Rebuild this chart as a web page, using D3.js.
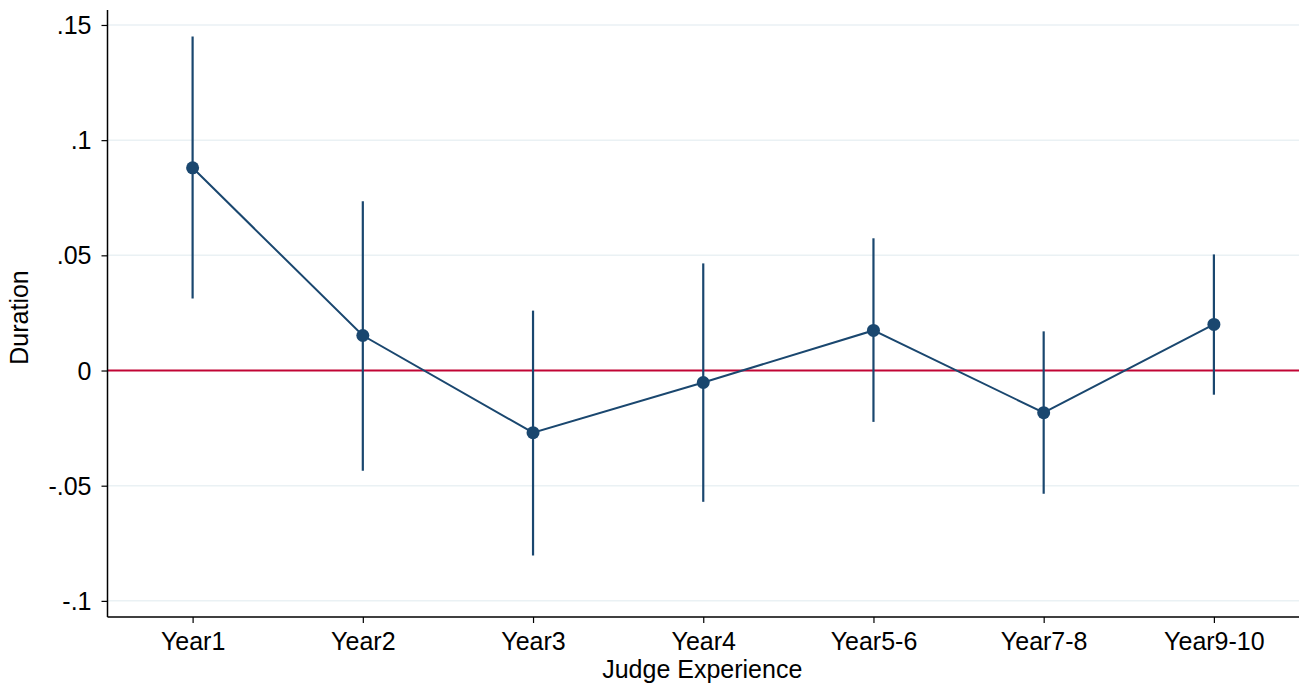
<!DOCTYPE html>
<html><head><meta charset="utf-8">
<script src="https://cdn.jsdelivr.net/npm/d3@7"></script>
<style>body{margin:0;background:#fff}svg{display:block}text{font-family:"Liberation Sans",Arial,sans-serif;fill:#000}</style>
</head><body><div id="chart"></div>
<script>
const categories = ["Year1","Year2","Year3","Year4","Year5-6","Year7-8","Year9-10"];
const estimates = [0.088, 0.0152, -0.027, -0.0052, 0.0174, -0.0183, 0.020];
const lowerCI = [0.0313, -0.0435, -0.0803, -0.057, -0.0223, -0.0535, -0.0105];
const upperCI = [0.145, 0.0735, 0.026, 0.0465, 0.0574, 0.017, 0.0504];
const yTicks = [-0.1, -0.05, 0, 0.05, 0.1, 0.15];
const yTickLabels = ["-.1", "-.05", "0", ".05", ".1", ".15"];

const W = 1302, H = 687;
const m = {left: 107.5, right: 1299, top: 10, bottom: 617};
const FS = 25;
const svg = d3.select("#chart").append("svg").attr("width", W).attr("height", H);

const x = d3.scalePoint().domain(categories).range([m.left, m.right]).padding(0.5);
const y = d3.scaleLinear().domain([-0.1070, 0.1565]).range([m.bottom, m.top]);

// gridlines
svg.append("g").selectAll("line").data(yTicks.filter(d => d !== 0)).join("line")
  .attr("x1", m.left).attr("x2", m.right)
  .attr("y1", d => y(d)).attr("y2", d => y(d))
  .attr("stroke", "#eaf1f4").attr("stroke-width", 1.5);

// zero line
svg.append("line").attr("x1", m.left).attr("x2", m.right)
  .attr("y1", y(0)).attr("y2", y(0))
  .attr("stroke", "#c10534").attr("stroke-width", 2);

// y axis
const yAxis = d3.axisLeft(y).tickValues(yTicks).tickSize(6).tickPadding(10)
  .tickFormat((d, i) => yTickLabels[i]);
const gy = svg.append("g").attr("transform", `translate(${m.left},0)`).call(yAxis)
  .attr("font-size", FS).attr("font-family", '"Liberation Sans",Arial,sans-serif');
gy.select(".domain").attr("d", `M0,${m.top}V${m.bottom}`).attr("stroke", "#000").attr("stroke-width", 1.5);
gy.selectAll(".tick line").attr("stroke", "#000").attr("stroke-width", 1.2);
gy.selectAll(".tick text").attr("dy", "0.34em");

// x axis
const xAxis = d3.axisBottom(x).tickSize(6).tickPadding(9);
const gx = svg.append("g").attr("transform", `translate(0,${m.bottom})`).call(xAxis)
  .attr("font-size", FS).attr("font-family", '"Liberation Sans",Arial,sans-serif');
gx.select(".domain").attr("d", `M${m.left},0H${m.right}`).attr("stroke", "#000").attr("stroke-width", 1.5);
gx.selectAll(".tick line").attr("stroke", "#000").attr("stroke-width", 1.2);
gx.selectAll(".tick text").attr("dy", "0.71em");

const color = "#1a476f";
const data = categories.map((c, i) => ({c, v: estimates[i], lo: lowerCI[i], hi: upperCI[i]}));

// CI lines
svg.append("g").selectAll("line").data(data).join("line")
  .attr("x1", d => x(d.c)).attr("x2", d => x(d.c))
  .attr("y1", d => y(d.lo)).attr("y2", d => y(d.hi))
  .attr("stroke", color).attr("stroke-width", 2.2);

// connecting line
svg.append("path").datum(data)
  .attr("d", d3.line().x(d => x(d.c)).y(d => y(d.v)))
  .attr("fill", "none").attr("stroke", color).attr("stroke-width", 2);

// points
svg.append("g").selectAll("circle").data(data).join("circle")
  .attr("cx", d => x(d.c)).attr("cy", d => y(d.v)).attr("r", 6.5)
  .attr("fill", color);

// axis titles
svg.append("text").attr("x", (m.left + m.right) / 2 - 1).attr("y", 678)
  .attr("text-anchor", "middle").attr("font-size", FS).text("Judge Experience");
svg.append("text").attr("transform", `translate(28,${(m.top + m.bottom) / 2 + 4}) rotate(-90)`)
  .attr("text-anchor", "middle").attr("font-size", FS).text("Duration");
</script></body></html>
